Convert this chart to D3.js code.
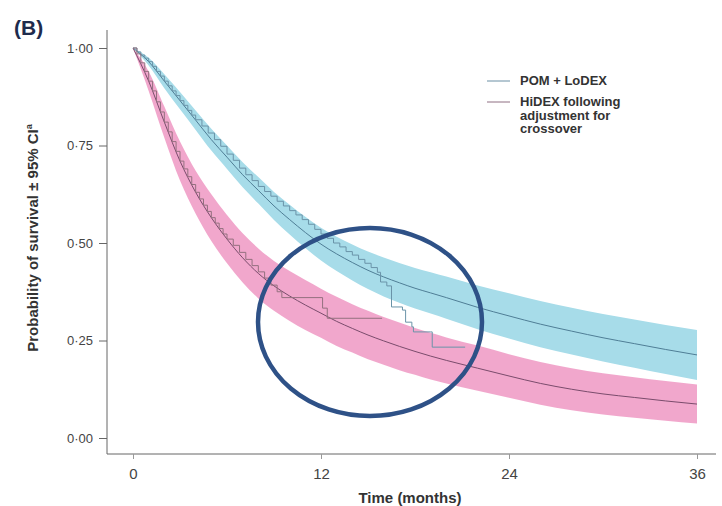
<!DOCTYPE html>
<html>
<head>
<meta charset="utf-8">
<script src="https://cdn.jsdelivr.net/npm/d3@7"></script>
<style>
	body { margin: 0; background: #fff; }
	svg { display: block; font-family: "Liberation Sans", Arial, Helvetica, sans-serif; }
	.tick text { fill: #444; }
</style>
</head>
<body>
<svg id="chart" width="722" height="506"></svg>
<script>

// model time grid (months)
var fitTimes = [0,1,2,3,4,5,6,7,8,9,10,11,12,13,14,15,16,17,18,19,20,22,24,26,28,30,32,34,36];

// POM + LoDEX, fitted survival and 95% CI
var pomFit   = [1.0,0.965,0.915,0.865,0.815,0.765,0.72,0.675,0.635,0.595,0.56,0.527,0.497,0.472,0.45,0.43,0.413,0.398,0.384,0.372,0.36,0.335,0.313,0.292,0.274,0.257,0.242,0.227,0.213];
var pomUpper = [1.0,0.975,0.933,0.887,0.84,0.793,0.75,0.707,0.669,0.631,0.598,0.567,0.539,0.516,0.496,0.478,0.463,0.449,0.436,0.425,0.414,0.391,0.371,0.351,0.334,0.318,0.304,0.29,0.277];
var pomLower = [1.0,0.955,0.897,0.843,0.79,0.737,0.69,0.643,0.601,0.559,0.522,0.487,0.455,0.428,0.404,0.382,0.363,0.347,0.332,0.319,0.306,0.279,0.255,0.233,0.214,0.196,0.18,0.164,0.149];

// HiDEX following adjustment for crossover
var hiFit   = [1.0,0.915,0.81,0.71,0.63,0.565,0.51,0.462,0.422,0.39,0.364,0.341,0.32,0.299,0.281,0.264,0.249,0.235,0.222,0.21,0.199,0.179,0.159,0.14,0.125,0.113,0.104,0.095,0.087];
var hiUpper = [1.0,0.94,0.85,0.76,0.685,0.625,0.572,0.525,0.486,0.454,0.428,0.405,0.383,0.362,0.343,0.326,0.31,0.296,0.282,0.27,0.258,0.237,0.215,0.195,0.179,0.166,0.156,0.146,0.137];
var hiLower = [1.0,0.89,0.77,0.66,0.575,0.505,0.448,0.399,0.358,0.326,0.3,0.277,0.257,0.236,0.219,0.202,0.188,0.174,0.162,0.15,0.14,0.121,0.103,0.085,0.071,0.06,0.052,0.044,0.037];

// Kaplan-Meier estimates
var pomKmT = [0,0.25,0.5,0.75,1.0,1.25,1.5,1.75,2.0,2.25,2.5,2.75,3.0,3.25,3.5,3.75,4.0,4.4,4.8,5.2,5.6,6.0,6.4,6.8,7.2,7.6,8.0,8.4,8.8,9.2,9.6,10.0,10.4,10.8,11.2,11.6,12.0,12.4,12.8,13.2,13.6,14.0,14.4,14.8,15.2,15.6,15.8,16.2,16.5,17.2,17.4,17.8,17.9,19.0,19.1,21.2];
var pomKmS = [1.0,0.99,0.982,0.974,0.965,0.953,0.94,0.928,0.915,0.903,0.89,0.878,0.865,0.853,0.84,0.828,0.816,0.8,0.782,0.765,0.748,0.728,0.712,0.692,0.675,0.66,0.645,0.632,0.62,0.607,0.595,0.583,0.572,0.56,0.548,0.535,0.523,0.512,0.5,0.49,0.478,0.469,0.458,0.448,0.437,0.425,0.4,0.39,0.336,0.328,0.297,0.285,0.272,0.272,0.233,0.233];

var hiKmT = [0,0.25,0.5,0.75,1.0,1.25,1.5,1.75,2.0,2.25,2.5,2.75,3.0,3.25,3.5,3.75,4.0,4.25,4.5,4.75,5.0,5.25,5.5,5.75,6.0,6.4,6.8,7.2,7.6,8.0,8.4,8.8,9.2,9.5,12.1,12.4,15.9];
var hiKmS = [1.0,0.985,0.962,0.94,0.915,0.89,0.862,0.836,0.81,0.785,0.76,0.735,0.71,0.69,0.67,0.65,0.63,0.613,0.597,0.581,0.565,0.551,0.537,0.523,0.51,0.494,0.476,0.458,0.442,0.426,0.41,0.392,0.375,0.36,0.333,0.307,0.307];

var xTicks = [0, 12, 24, 36];
var yTicks = [0, 0.25, 0.5, 0.75, 1];
var legendLabels = [["POM + LoDEX"], ["HiDEX following", "adjustment for", "crossover"]];

var svg = d3.select('#chart');

var x = d3.scaleLinear().domain([0, 36]).range([133, 697]);
var y = d3.scaleLinear().domain([0, 1]).range([438, 48]);

var axisColor = '#666';

// bands
function band(lo, hi) {
	return d3.area()
		.x(function(d, i) { return x(fitTimes[i]); })
		.y0(function(d, i) { return y(lo[i]); })
		.y1(function(d, i) { return y(hi[i]); })
		.curve(d3.curveMonotoneX)(fitTimes);
}
svg.append('path').attr('d', band(pomLower, pomUpper)).attr('fill', '#a7dce9');
svg.append('path').attr('d', band(hiLower, hiUpper)).attr('fill', '#f0a2c9').attr('fill-opacity', 0.95);

function curve(vals) {
	return d3.line()
		.x(function(d, i) { return x(fitTimes[i]); })
		.y(function(d) { return y(d); })
		.curve(d3.curveMonotoneX)(vals);
}
svg.append('path').attr('d', curve(pomFit)).attr('fill', 'none').attr('stroke', '#4f7e96').attr('stroke-width', 1);
svg.append('path').attr('d', curve(hiFit)).attr('fill', 'none').attr('stroke', '#7a4c6c').attr('stroke-width', 1);

function km(ts, ss) {
	return d3.line()
		.x(function(d, i) { return x(ts[i]); })
		.y(function(d) { return y(d); })
		.curve(d3.curveStepAfter)(ss);
}
svg.append('path').attr('d', km(pomKmT, pomKmS)).attr('fill', 'none').attr('stroke', '#6a93a8').attr('stroke-width', 1);
svg.append('path').attr('d', km(hiKmT, hiKmS)).attr('fill', 'none').attr('stroke', '#94707f').attr('stroke-width', 1);

// axes
svg.append('line').attr('x1', 107).attr('x2', 107).attr('y1', 30).attr('y2', 454).attr('stroke', axisColor);
svg.append('line').attr('x1', 107).attr('x2', 716).attr('y1', 454).attr('y2', 454).attr('stroke', axisColor);

var yAxis = svg.append('g').attr('transform', 'translate(107,0)')
	.call(d3.axisLeft(y).tickValues(yTicks).tickSize(8).tickPadding(6)
		.tickFormat(function(d) { return d3.format('.2f')(d).replace('.', '\u00b7'); }));
yAxis.select('.domain').remove();
yAxis.selectAll('.tick line').attr('stroke', axisColor);
yAxis.selectAll('text').attr('font-size', 13).attr('font-family', '"Liberation Sans", Arial, sans-serif');

var xAxis = svg.append('g').attr('transform', 'translate(0,454)')
	.call(d3.axisBottom(x).tickValues(xTicks).tickSize(5).tickPadding(9));
xAxis.select('.domain').remove();
xAxis.selectAll('.tick line').attr('stroke', '#999');
xAxis.selectAll('text').attr('font-size', 15).attr('font-family', '"Liberation Sans", Arial, sans-serif');

svg.append('text').attr('x', 410).attr('y', 503).attr('text-anchor', 'middle')
	.attr('font-size', 15).attr('font-weight', 'bold').attr('fill', '#333')
	.text('Time (months)');

var yt = svg.append('text').attr('transform', 'translate(38,238) rotate(-90)')
	.attr('text-anchor', 'middle').attr('font-size', 15).attr('font-weight', 'bold').attr('fill', '#333');
yt.append('tspan').text('Probability of survival \u00b1 95% CI');
yt.append('tspan').attr('dy', -6).attr('font-size', 9).text('a');

svg.append('text').attr('x', 14).attr('y', 35).attr('font-size', 21).attr('font-weight', 'bold')
	.attr('fill', '#1e2b4d').text('(B)');

// legend
var legColors = ['#6a8fa4', '#8f6f82'];
var leg = svg.append('g').attr('font-size', 13).attr('font-weight', 'bold').attr('fill', '#333');
legendLabels.forEach(function(lines, k) {
	var ly = k == 0 ? 81 : 102;
	leg.append('line').attr('x1', 487).attr('x2', 510).attr('y1', ly).attr('y2', ly)
		.attr('stroke', legColors[k]).attr('stroke-width', 1);
	lines.forEach(function(s, j) {
		leg.append('text').attr('x', 520).attr('y', ly + 4 + j * 13.5).text(s);
	});
});

// highlight ring
svg.append('ellipse').attr('cx', 370).attr('cy', 322).attr('rx', 112).attr('ry', 94)
	.attr('fill', 'none').attr('stroke', '#2e5187').attr('stroke-width', 4.5);

</script>
</body>
</html>
